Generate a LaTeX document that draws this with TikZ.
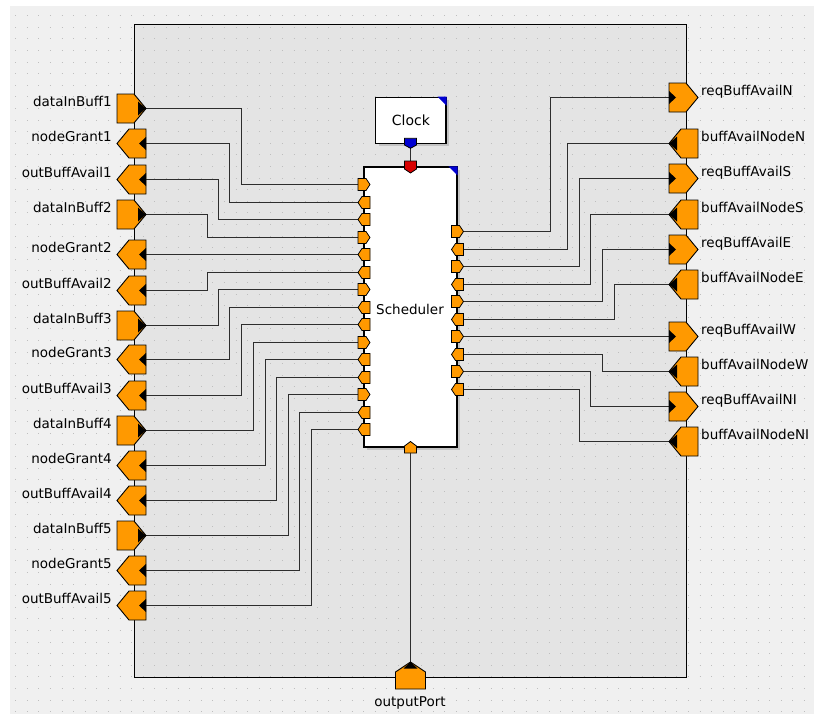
\documentclass[tikz,border=0pt]{standalone}
\usepackage{fontspec}
\setmainfont{DejaVu Sans}
\definecolor{portor}{RGB}{255,153,0}
\definecolor{outerbg}{RGB}{240,240,240}
\definecolor{innerbg}{RGB}{228,228,228}
\definecolor{wirec}{RGB}{45,45,45}
\definecolor{dotc}{RGB}{190,190,190}
\definecolor{clkblue}{RGB}{0,0,210}
\definecolor{clkred}{RGB}{215,0,0}
\definecolor{shadowc}{RGB}{195,195,195}
\begin{document}
\begin{tikzpicture}[x=1pt,y=-1pt,
  lbl/.style={font=\fontsize{13.5}{15}\selectfont, inner sep=0pt},
  wire/.style={draw=wirec, line width=1.6pt},
  port/.style={fill=portor, draw=black, line width=0.9pt, line join=miter},
  boxst/.style={draw=black, fill=white, line width=1.2pt, inner sep=0pt},
  pics/tipR/.style={code={\draw[port] (-14.5,-14.5) -- (2.5,-14.5) -- (14.5,0) -- (2.5,14.5) -- (-14.5,14.5) -- cycle;
     \fill[black] (6.5,-7) -- (14.5,0) -- (6.5,7) -- cycle;}},
  pics/flatR/.style={code={\draw[port] (-14.5,-14.5) -- (2.5,-14.5) -- (14.5,0) -- (2.5,14.5) -- (-14.5,14.5) -- cycle;
     \fill[black] (-14.5,-6.5) -- (-7.5,0) -- (-14.5,6.5) -- cycle;}},
  pics/tipL/.style={code={\draw[port] (14.5,-14.5) -- (-2.5,-14.5) -- (-14.5,0) -- (-2.5,14.5) -- (14.5,14.5) -- cycle;
     \fill[black] (-6.5,-7) -- (-14.5,0) -- (-6.5,7) -- cycle;}},
  pics/flatL/.style={code={\draw[port] (14.5,-14.5) -- (-2.5,-14.5) -- (-14.5,0) -- (-2.5,14.5) -- (14.5,14.5) -- cycle;
     \fill[black] (14.5,-6.5) -- (7.5,0) -- (14.5,6.5) -- cycle;}},
  pics/spR/.style={code={\draw[port, line width=0.8pt] (-6,-6) -- (2,-6) -- (6,0) -- (2,6) -- (-6,6) -- cycle;}},
  pics/spL/.style={code={\draw[port, line width=0.8pt] (6,-6) -- (-2,-6) -- (-6,0) -- (-2,6) -- (6,6) -- cycle;}}
]
\useasboundingbox (0,0) rectangle (814,716);
\fill[white] (0,0) rectangle (814,716);
\fill[outerbg] (10,6) rectangle (814,714);
\fill[innerbg] (134,24) rectangle (687,677);
\foreach \r in {0,...,60}{
  \draw[dotc, line width=1.1pt, dash pattern=on 1.1pt off 10.5pt] (15.15,{15.7+11.6*\r}) -- (814,{15.7+11.6*\r});
}
\draw[line width=1.1pt] (134.5,24.5) rectangle (686.5,677.5);

% left wires and labels
\foreach \nm/\y/\sy/\j [count=\k] in {dataInBuff1/108.5/184.5/241.5, nodeGrant1/143.5/202.5/229.5, outBuffAvail1/179.5/219.5/218.5, dataInBuff2/214.5/237.5/207.5, nodeGrant2/254.5/254.5/250.5, outBuffAvail2/290.5/272.5/207.5, dataInBuff3/325.5/289.5/218.5, nodeGrant3/359.5/307.5/229.5, outBuffAvail3/395.5/324.5/241.5, dataInBuff4/430.5/342.5/253.5, nodeGrant4/465.5/359.5/265.5, outBuffAvail4/500.5/377.5/276.5, dataInBuff5/535.5/394.5/288.5, nodeGrant5/570.5/412.5/299.5, outBuffAvail5/605.5/429.5/311.5}{
  \coordinate (lp\k) at (146,\y);
  \coordinate (sl\k) at (358,\sy);
  \node[lbl, anchor=base east] (ll\k) at (112,\y-2) {\nm};
  \draw[wire] (lp\k) -- ++({\j-146},0) |- (sl\k);
}
% right wires and labels
\foreach \nm/\y/\sy/\j [count=\k] in {reqBuffAvailN/97.5/231.5/550.5, buffAvailNodeN/143.5/249.5/567.5, reqBuffAvailS/178.5/266.5/579.5, buffAvailNodeS/214.5/284.5/590.5, reqBuffAvailE/249.5/301.5/602.5, buffAvailNodeE/284.5/319.5/614.5, reqBuffAvailW/336.5/336.5/620.5, buffAvailNodeW/371.5/354.5/602.5, reqBuffAvailNI/406.5/371.5/590.5, buffAvailNodeNI/441.5/389.5/579.5}{
  \coordinate (rp\k) at (669,\y);
  \coordinate (sr\k) at (463,\sy);
  \node[lbl, anchor=base west] (rl\k) at (701,\y-2) {\nm};
  \draw[wire] (sr\k) -- ++({\j-463},0) |- (rp\k);
}

% boxes
\fill[shadowc] (379,100.3) rectangle (449,146.3);
\node[boxst, minimum width=70.3pt, minimum height=46pt, font=\fontsize{14}{16}\selectfont] (clk) at (410.85,120.3) {Clock};
\fill[shadowc] (367,170) rectangle (460,450);
\node[boxst, minimum width=93pt, minimum height=280pt] (sched) at (410.5,307) {};
\node[lbl] (schedlbl) at (410,309) {Scheduler};
\fill[clkblue] (clk.north east) -- ++(-9,0) -- ++(9,9) -- cycle;
\fill[clkblue] (sched.north east) -- ++(-9,0) -- ++(9,9) -- cycle;

% clock and output connectors
\coordinate (clkout) at (410.5,148.3);
\coordinate (schin) at (410.5,161);
\coordinate (schout) at (410.5,453);
\coordinate (outp) at (410.5,662);
\draw[wire, line width=1.3pt] (clkout) -- (schin);
\draw[wire, line width=1.3pt] (schout) -- (outp);
\draw[fill=clkblue, line width=0.8pt] (404.5,138.3) -- (416.5,138.3) -- (416.5,145) -- (410.5,148.3) -- (404.5,145) -- cycle;
\draw[fill=clkred, line width=0.8pt] (404.5,161) -- (416.5,161) -- (416.5,169) -- (410.5,173) -- (404.5,169) -- cycle;
\draw[port, line width=0.8pt] (404.5,453) -- (416.5,453) -- (416.5,446) -- (410.5,441.5) -- (404.5,446) -- cycle;
\draw[port] (395.5,689) -- (425.5,689) -- (425.5,672) -- (410.5,662) -- (395.5,672) -- cycle;
\fill[black] (403.5,668.5) -- (410.5,662) -- (417.5,668.5) -- cycle;
\node[lbl, anchor=base] (outlbl) at (410,706) {outputPort};

% left big ports
\foreach \y in {108.5,214.5,325.5,430.5,535.5}{ \pic at (131.5,\y) {tipR}; }
\foreach \y in {143.5,179.5,254.5,290.5,359.5,395.5,465.5,500.5,570.5,605.5}{ \pic at (131.5,\y) {flatL}; }
% right big ports
\foreach \y in {97.5,178.5,249.5,336.5,406.5}{ \pic at (683.5,\y) {flatR}; }
\foreach \y in {143.5,214.5,284.5,371.5,441.5}{ \pic at (683.5,\y) {tipL}; }
% scheduler small ports
\foreach \y in {184.5,237.5,289.5,342.5,394.5}{ \pic at (364,\y) {spR}; }
\foreach \y in {202.5,219.5,254.5,272.5,307.5,324.5,359.5,377.5,412.5,429.5}{ \pic at (364,\y) {spL}; }
\foreach \y in {231.5,266.5,301.5,336.5,371.5}{ \pic at (457.5,\y) {spR}; }
\foreach \y in {249.5,284.5,319.5,354.5,389.5}{ \pic at (457.5,\y) {spL}; }
\end{tikzpicture}
\end{document}
